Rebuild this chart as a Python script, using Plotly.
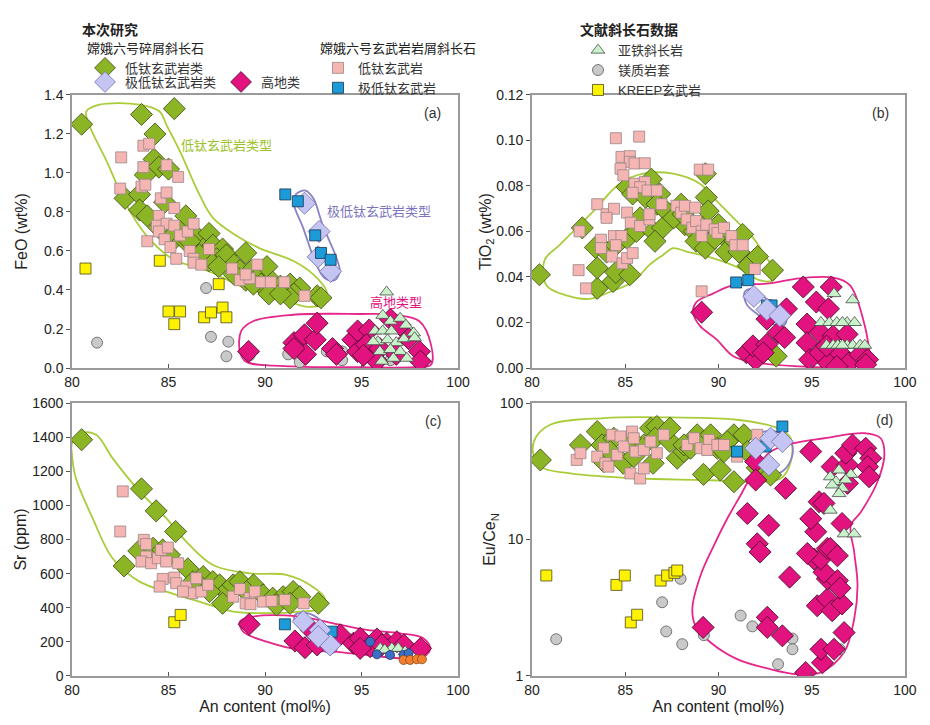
import plotly.graph_objects as go

# ---------------- panel (a): FeO (wt%) vs An (mol%) ----------------
FEO_LOWTI_DIA = [
    (80.5, 1.25), (83.6, 1.30), (85.3, 1.33), (84.3, 1.20), (84.25, 1.07), (84.5, 1.03),
    (85.0, 1.02), (83.8, 0.99), (82.75, 0.87), (83.5, 0.89), (83.5, 0.81), (83.9, 0.78),
    (84.8, 0.85), (85.9, 0.78), (85.6, 0.70), (85.3, 0.66), (85.9, 0.65), (86.5, 0.67),
    (87.1, 0.69), (86.8, 0.61), (87.3, 0.63), (87.8, 0.61), (87.5, 0.56), (88.0, 0.58),
    (88.4, 0.53), (89.0, 0.59), (88.7, 0.50), (89.3, 0.50), (89.7, 0.47), (90.1, 0.52),
    (89.8, 0.43), (90.4, 0.44), (90.8, 0.42), (91.3, 0.43), (91.8, 0.41), (91.5, 0.38),
    (91.3, 0.36), (92.7, 0.37), (92.9, 0.36), (87.1, 0.55), (86.6, 0.58), (86.1, 0.65),
    (85.1, 0.70), (84.5, 0.72), (87.6, 0.52), (88.4, 0.48), (89.0, 0.45), (89.4, 0.43),
    (90.2, 0.38), (90.8, 0.38),
]
FEO_LOWTI_SQ = [
    (83.7, 1.14), (84.0, 1.15), (82.55, 1.08), (83.7, 1.03), (84.9, 1.04), (85.5, 0.98),
    (82.5, 0.92), (83.6, 0.93), (83.8, 0.94), (84.6, 0.87), (84.9, 0.90), (85.3, 0.82),
    (84.5, 0.78), (84.4, 0.73), (84.9, 0.74), (85.3, 0.73), (83.9, 0.65), (84.5, 0.70),
    (84.8, 0.66), (85.1, 0.62), (85.4, 0.56), (85.6, 0.68), (86.0, 0.70), (86.3, 0.74),
    (86.1, 0.60), (86.3, 0.56), (86.3, 0.54), (86.7, 0.53), (87.1, 0.61), (88.3, 0.51),
    (88.7, 0.45), (89.2, 0.46), (89.6, 0.53), (89.8, 0.44), (90.3, 0.44), (91.0, 0.44),
    (92.05, 0.37), (89.0, 0.48),
]
FEO_VLT_DIA = [(92.05, 0.845), (92.8, 0.70), (92.75, 0.57), (93.4, 0.495)]
FEO_VLT_SQ = [(91.05, 0.89), (91.7, 0.855), (92.6, 0.68), (92.9, 0.59), (93.4, 0.555)]
FEO_KREEP = [
    (80.7, 0.51), (84.55, 0.55), (87.6, 0.43), (85.0, 0.29), (85.6, 0.29), (85.3, 0.225),
    (86.85, 0.26), (87.2, 0.285), (87.8, 0.31), (88.0, 0.26),
]
FEO_MGS = [
    (81.3, 0.13), (86.95, 0.41), (87.2, 0.16), (88.1, 0.135), (88.0, 0.06), (89.2, 0.065),
    (91.2, 0.07), (91.8, 0.03), (93.2, 0.085), (94.0, 0.085), (94.0, 0.04), (96.5, 0.04),
]
FEO_HL_DIA = [
    (89.15, 0.085), (91.5, 0.13), (92.05, 0.17), (92.6, 0.145), (92.7, 0.23), (92.1, 0.07),
    (91.5, 0.10), (93.5, 0.10), (93.7, 0.07), (94.55, 0.145), (94.8, 0.19), (95.4, 0.195),
    (94.8, 0.085), (95.25, 0.12), (95.6, 0.06), (95.95, 0.10), (96.5, 0.25), (97.0, 0.22),
    (97.45, 0.15), (98.0, 0.085), (98.05, 0.035), (96.8, 0.07), (95.8, 0.035), (95.1, 0.065),
]
FEO_FAN = [
    (96.3, 0.39), (96.1, 0.27), (96.5, 0.24), (97.0, 0.255), (95.7, 0.19), (96.1, 0.19),
    (96.55, 0.19), (97.3, 0.22), (97.7, 0.18), (95.85, 0.135), (96.35, 0.145), (96.8, 0.13),
    (97.2, 0.15), (97.75, 0.155), (95.95, 0.085), (96.5, 0.095), (97.0, 0.085), (97.35, 0.05),
    (96.05, 0.035), (95.6, 0.135), (96.65, 0.05),
]
FEO_ENV_LOWTI = [
    (80.74, 1.315), (81.43, 1.35), (83.5, 1.35), (84.54, 1.315), (84.9, 1.245), (85.6, 1.11),
    (86.6, 0.89), (87.3, 0.77), (88.5, 0.68), (89.7, 0.615), (91.45, 0.55), (92.5, 0.48),
    (93.2, 0.39), (93.0, 0.33), (92.1, 0.315), (90.8, 0.36), (89.0, 0.41), (87.1, 0.495),
    (85.2, 0.56), (83.85, 0.68), (82.8, 0.84), (81.8, 1.06), (80.9, 1.245),
]
FEO_ENV_VLT = [
    (91.6, 0.89), (92.1, 0.91), (92.5, 0.87), (93.0, 0.73), (93.7, 0.565), (93.87, 0.495),
    (93.6, 0.45), (93.1, 0.46), (92.66, 0.53), (91.97, 0.72), (91.5, 0.84),
]
FEO_ENV_HL = [
    (88.77, 0.19), (89.38, 0.24), (91.45, 0.273), (94.9, 0.277), (96.6, 0.273), (98.0, 0.24),
    (98.6, 0.12), (98.6, 0.017), (97.7, 0.004), (94.9, 0.004), (91.45, 0.008), (89.0, 0.034),
    (88.7, 0.085),
]

# ---------------- panel (b): TiO2 (wt%) vs An ----------------
TIO2_LOWTI_DIA = [
    (80.4, 0.041), (82.7, 0.0616), (83.5, 0.035), (83.5, 0.044), (83.4, 0.053), (84.35, 0.038),
    (84.5, 0.042), (85.25, 0.041), (84.0, 0.051), (84.5, 0.054), (85.1, 0.057), (85.6, 0.060),
    (85.8, 0.066), (85.1, 0.0795), (85.4, 0.0765), (86.0, 0.078), (86.4, 0.083), (86.1, 0.075),
    (86.85, 0.0765), (86.7, 0.072), (87.2, 0.069), (86.5, 0.060), (87.0, 0.0616), (86.6, 0.0557),
    (88.0, 0.072), (88.2, 0.063), (88.7, 0.060), (89.3, 0.063), (88.8, 0.0557), (89.3, 0.0527),
    (89.35, 0.075), (89.45, 0.069), (89.3, 0.0854), (90.0, 0.063), (90.4, 0.057), (90.4, 0.051),
    (90.9, 0.0557), (91.1, 0.051), (91.3, 0.0587), (91.6, 0.045), (92.1, 0.049), (92.9, 0.043),
    (93.1, 0.0052), (89.8, 0.057), (87.6, 0.066), (88.1, 0.0676),
]
TIO2_LOWTI_SQ = [
    (84.5, 0.101), (85.75, 0.1017), (84.8, 0.0928), (85.25, 0.0931), (85.25, 0.0906), (85.5, 0.0899),
    (86.05, 0.090), (84.75, 0.0876), (84.9, 0.0847), (85.5, 0.081), (86.05, 0.0817), (85.8, 0.0795),
    (86.2, 0.078), (85.4, 0.077), (86.7, 0.078), (83.5, 0.072), (84.0, 0.0676), (84.4, 0.070),
    (85.1, 0.0683), (84.0, 0.066), (85.3, 0.0639), (85.8, 0.0624), (86.3, 0.0653), (86.3, 0.0676),
    (86.95, 0.072), (82.55, 0.0601), (83.7, 0.0564), (83.7, 0.0527), (84.4, 0.058), (84.8, 0.058),
    (84.5, 0.054), (84.3, 0.049), (84.85, 0.046), (85.1, 0.0483), (85.4, 0.0505), (82.5, 0.043),
    (82.9, 0.035), (87.75, 0.0713), (88.0, 0.0683), (88.2, 0.0713), (88.75, 0.0705), (88.3, 0.0653),
    (88.6, 0.0616), (88.8, 0.0646), (89.1, 0.0601), (89.1, 0.058), (89.35, 0.063), (89.8, 0.0609),
    (89.95, 0.0594), (90.3, 0.0616), (90.7, 0.058), (90.9, 0.054), (91.3, 0.054), (91.95, 0.0435),
    (89.0, 0.0872), (89.45, 0.0872), (89.1, 0.0337),
]
TIO2_VLT_DIA = [(91.9, 0.0315), (92.6, 0.0257), (93.3, 0.023)]
TIO2_VLT_SQ = [(90.95, 0.0376), (91.6, 0.0386), (92.6, 0.0275), (92.85, 0.0275)]
TIO2_HL_DIA = [
    (89.1, 0.0245), (91.5, 0.0067), (92.0, 0.0037), (91.85, 0.0097), (92.6, 0.0104), (92.4, 0.0067),
    (92.6, 0.0215), (93.2, 0.0156), (93.65, 0.026), (93.55, 0.0134), (94.55, 0.0356), (94.75, 0.0193),
    (95.25, 0.029), (95.9, 0.026), (96.05, 0.0356), (95.45, 0.0156), (94.75, 0.0111), (94.9, 0.0037),
    (95.45, 0.0067), (95.9, 0.0022), (96.15, 0.0141), (96.9, 0.0148), (96.5, 0.0067), (97.0, 0.0022),
    (97.6, 0.0059), (98.0, 0.0037), (97.9, 0.0015), (95.8, 0.0097), (96.35, 0.0007),
]
TIO2_FAN = [
    (96.2, 0.0327), (97.2, 0.030), (95.5, 0.020), (95.95, 0.020), (96.35, 0.020), (96.9, 0.020),
    (97.3, 0.020), (95.8, 0.010), (96.15, 0.010), (96.4, 0.010), (96.9, 0.010), (97.2, 0.010),
    (97.6, 0.010), (97.85, 0.010), (96.65, 0.020), (96.65, 0.010),
]
TIO2_ENV_LOWTI = [
    (80.68, 0.0475), (81.5, 0.0542), (83.3, 0.069), (84.7, 0.081), (85.96, 0.0854), (87.57, 0.0854),
    (89.0, 0.081), (89.9, 0.0735), (90.8, 0.066), (91.86, 0.0572), (92.58, 0.0483), (93.1, 0.0423),
    (92.93, 0.0386), (92.2, 0.0386), (91.15, 0.0438), (89.7, 0.0483), (88.28, 0.0512), (87.57, 0.0527),
    (87.03, 0.0497), (86.3, 0.0453), (85.42, 0.0379), (84.17, 0.0334), (83.1, 0.0304), (81.84, 0.0319),
    (80.77, 0.0364),
]
TIO2_ENV_VLT = [
    (91.41, 0.0334), (91.86, 0.0349), (92.58, 0.0304), (93.47, 0.0245), (93.65, 0.0208),
    (93.47, 0.0186), (92.93, 0.0193), (92.2, 0.023), (91.5, 0.0282),
]
TIO2_ENV_HL = [
    (88.82, 0.029), (89.7, 0.0327), (90.8, 0.0364), (92.58, 0.0371), (94.36, 0.0394), (96.15, 0.0397),
    (97.05, 0.0364), (97.85, 0.0186), (98.12, 0.0067), (98.3, 0.0007), (96.15, 0.0003), (94.36, 0.0007),
    (92.2, 0.0022), (90.8, 0.0052), (89.9, 0.0126), (89.0, 0.0186), (88.64, 0.0245),
]

# ---------------- panel (c): Sr (ppm) vs An ----------------
SR_LOWTI_DIA = [
    (80.5, 1385), (83.6, 1097), (84.36, 968), (85.37, 847), (82.7, 645), (83.46, 733), (84.2, 749),
    (84.7, 739), (85.05, 710), (86.0, 628), (86.8, 583), (87.3, 553), (87.65, 534), (88.0, 495),
    (87.8, 426), (88.35, 534), (88.7, 553), (89.4, 534), (89.04, 495), (89.9, 475), (90.4, 456),
    (90.94, 465), (91.46, 495), (91.8, 465), (92.76, 426), (90.6, 417), (91.3, 426), (87.13, 495),
    (86.6, 534), (86.27, 553),
]
SR_LOWTI_SQ = [
    (82.63, 1082), (82.5, 847), (83.72, 798), (83.84, 773), (83.84, 700), (83.6, 671), (84.1, 661),
    (84.45, 690), (84.62, 739), (84.97, 753), (84.88, 671), (85.5, 661), (84.7, 569), (84.54, 524),
    (85.3, 577), (85.4, 544), (85.92, 524), (86.44, 573), (86.23, 485), (85.75, 495), (86.7, 495),
    (87.05, 534), (88.35, 465), (88.7, 510), (89.2, 456), (89.0, 426), (89.47, 495), (89.9, 436),
    (90.34, 440), (91.03, 446), (92.0, 426), (89.25, 421),
]
SR_KREEP = [(85.3, 315), (85.63, 358)]
SR_VLT_SQ = [(91.03, 303), (93.45, 260)]
SR_VLT_DIA = [(92.85, 270), (93.37, 182), (92.76, 231), (91.98, 319)]
SR_HL_DIA = [
    (89.18, 303), (91.55, 205), (92.07, 166), (92.4, 270), (92.7, 182), (93.9, 241), (94.58, 192),
    (94.93, 221), (95.45, 172), (95.8, 217), (96.3, 192), (96.83, 201), (97.2, 182), (98.06, 162),
    (94.93, 162), (96.05, 182),
]
SR_FAN = [(95.97, 162), (96.57, 162), (96.9, 162), (97.26, 143), (96.2, 153)]
SR_BLUE_CIRC = [(95.45, 201), (95.8, 127), (96.48, 123), (97.18, 123), (97.44, 133)]
SR_ORANGE_CIRC = [(97.18, 94), (97.52, 94), (97.87, 98), (98.13, 98)]
SR_ENV_LOWTI = [
    (80.0, 1365), (80.55, 1424), (81.25, 1414), (82.1, 1277), (83.5, 1082), (84.88, 925), (85.92, 788),
    (87.3, 651), (89.2, 602), (91.1, 593), (92.33, 534), (93.1, 456), (92.93, 397), (91.8, 377),
    (90.08, 368), (88.35, 377), (86.6, 436), (84.88, 495), (83.5, 553), (82.1, 690), (81.07, 925),
    (80.2, 1160), (80.0, 1297),
]
SR_ENV_VLT = [
    (91.55, 358), (92.16, 368), (92.85, 329), (93.54, 221), (93.71, 153), (93.37, 133), (92.85, 162),
    (92.16, 241), (91.55, 319),
]
SR_ENV_HL = [
    (88.7, 319), (89.38, 348), (91.8, 348), (93.54, 309), (95.27, 270), (97.0, 250), (98.2, 221),
    (98.56, 162), (98.2, 113), (97.0, 104), (95.27, 123), (93.54, 143), (91.8, 153), (90.08, 201),
    (88.87, 260),
]

# ---------------- panel (d): Eu/Ce_N vs An (log) ----------------
EUCE_LOWTI_DIA = [
    (80.45, 38.3), (82.6, 49.3), (83.5, 61.8), (83.76, 49.3), (84.39, 55.2), (83.85, 37.2), (84.9, 36.2),
    (85.46, 40.5), (86.0, 49.3), (86.36, 65.5), (86.7, 67.3), (86.6, 55.2), (86.5, 36.2), (87.4, 52.2),
    (87.79, 39.4), (88.15, 44.1), (88.86, 58.5), (89.2, 52.2), (89.2, 30.0), (89.58, 58.5), (89.94, 46.6),
    (90.1, 32.3), (90.83, 58.5), (90.83, 26.5), (90.47, 52.2), (91.37, 58.5), (91.55, 44.1), (92.08, 33.5),
    (92.8, 29.7), (88.15, 49.3), (85.28, 55.2), (87.4, 65.5), (88.5, 46.6), (90.3, 44.1), (84.2, 44.1),
]
EUCE_LOWTI_SQ = [
    (82.4, 38.3), (82.6, 42.9), (83.85, 46.6), (83.5, 40.5), (83.94, 36.2), (84.1, 34.2), (84.3, 58.5),
    (84.75, 56.9), (84.57, 41.7), (84.92, 48.0), (85.37, 61.8), (85.46, 55.2), (85.55, 44.1), (86.0, 45.3),
    (85.28, 30.5), (85.8, 28.0), (86.0, 33.2), (86.36, 52.2), (86.7, 42.9), (87.07, 58.5), (88.33, 49.3),
    (88.7, 55.2), (89.04, 46.6), (89.5, 53.7), (89.4, 45.3), (89.94, 49.3), (90.3, 49.3), (91.0, 40.5),
    (92.08, 58.5),
]
EUCE_VLT_SQ = [(93.43, 67.3), (91.0, 44.1), (92.53, 48.0)]
EUCE_VLT_DIA = [(92.0, 46.6), (92.8, 55.2), (93.43, 52.2), (92.7, 35.2)]
EUCE_HL_DIA = [
    (94.95, 44.1), (92.0, 37.2), (92.0, 27.3), (93.6, 23.7), (91.55, 15.5), (92.7, 12.7), (92.08, 9.3),
    (92.23, 8.1), (93.82, 5.3), (89.18, 2.27), (92.62, 2.69), (92.62, 2.27), (93.43, 1.97), (94.68, 1.06),
    (95.58, 1.25), (95.5, 1.57), (96.2, 1.57), (96.74, 2.08), (95.3, 3.27), (95.84, 3.67), (96.1, 3.01),
    (96.63, 3.37), (95.84, 5.15), (96.38, 5.0), (96.52, 4.4), (95.66, 5.76), (95.13, 7.2), (95.48, 7.2),
    (95.84, 8.6), (96.0, 8.6), (96.38, 7.6), (94.77, 7.9), (95.22, 11.4), (94.95, 14.2), (95.4, 18.9),
    (95.66, 18.4), (96.63, 13.1), (96.1, 34.2), (96.92, 35.2), (96.83, 42.9), (97.19, 49.3), (97.9, 46.6),
    (98.17, 39.4), (98.0, 34.2), (98.08, 28.8), (96.92, 25.8),
]
EUCE_FAN = [
    (96.47, 32.3), (97.1, 30.0), (96.0, 28.8), (96.3, 26.5), (96.83, 27.3), (96.1, 25.1), (96.65, 23.7),
    (96.47, 21.7), (96.0, 16.4), (96.74, 11.0), (97.28, 11.0),
]
EUCE_KREEP = [
    (80.77, 5.45), (84.53, 4.65), (84.98, 5.45), (86.9, 5.0), (87.25, 5.45), (87.64, 5.7), (87.79, 5.93),
    (85.3, 2.47), (85.64, 2.81),
]
EUCE_MGS = [
    (81.3, 1.86), (86.98, 3.47), (87.97, 5.15), (87.2, 2.12), (88.06, 1.71), (89.22, 1.99), (91.19, 2.77),
    (91.82, 2.31), (93.2, 1.22), (93.97, 1.88), (93.97, 1.57), (96.5, 1.57),
]
EUCE_ENV_LOWTI = [
    (80.18, 55.2), (80.98, 69.3), (83.85, 77.6), (87.43, 78.4), (91.0, 75.4), (93.16, 65.5), (93.88, 55.2),
    (93.88, 37.2), (93.34, 28.0), (92.09, 26.5), (89.22, 27.3), (85.64, 28.0), (82.06, 30.5), (80.45, 34.2),
    (80.05, 44.1),
]
EUCE_ENV_VLT = [
    (91.73, 55.2), (92.44, 61.8), (93.34, 60.1), (93.88, 52.2), (93.97, 41.7), (93.52, 32.3), (92.8, 30.0),
    (92.09, 35.2), (91.55, 44.1),
]
EUCE_ENV_HL = [
    (88.6, 3.1), (89.04, 5.45), (89.76, 9.06), (90.47, 14.2), (91.19, 21.1), (91.9, 31.4), (92.8, 44.1),
    (94.05, 50.8), (95.67, 55.2), (97.82, 60.1), (98.7, 55.2), (98.9, 41.7), (98.53, 26.5), (97.64, 15.9),
    (97.1, 12.7), (97.28, 8.1), (97.46, 4.6), (97.28, 2.61), (96.74, 1.49), (95.49, 1.06), (94.23, 1.03),
    (92.8, 1.12), (91.0, 1.33), (89.58, 1.76), (88.77, 2.33),
]

FONT = "Arial, Liberation Sans, Noto Sans CJK SC, sans-serif"

# marker styles: name, symbol, size, fill, outline, legend group, rank
STYLES = {
    "mgs": ("镁质岩套", "circle", 11, "#c9c9c9", "#5a5a5a", "legend4", 2),
    "kreep": ("KREEP玄武岩", "square", 11, "#fff200", "#4a4a20", "legend4", 3),
    "lowti_dia": ("低钛玄武岩类", "diamond", 17, "#8cb526", "#3c4616", "legend", 1),
    "lowti_sq": ("低钛玄武岩", "square", 11, "#f4b5b3", "#9b8585", "legend3", 1),
    "hl_dia": ("高地类", "diamond", 17, "#e2127f", "#3e0a24", "legend2", 2),
    "fan": ("亚铁斜长岩", "triangle-up", 12, "#c8f2c9", "#4a4a4a", "legend4", 1),
    "vlt_dia": ("极低钛玄武岩类", "diamond", 17, "#c5c5f3", "#6f6fa8", "legend2", 1),
    "vlt_sq": ("极低钛玄武岩", "square", 11, "#1d9bd8", "#163650", "legend3", 2),
    "blue_circ": (None, "circle", 9, "#3b6fc4", "#203a70", None, 0),
    "orange_circ": (None, "circle", 9, "#f08030", "#8a4a18", None, 0),
}
ENV_COLORS = {"lowti": "#a9cd3a", "vlt": "#8a82c6", "hl": "#e5268a"}

panels = [
    ("x", "y", {"lowti": FEO_ENV_LOWTI, "vlt": FEO_ENV_VLT, "hl": FEO_ENV_HL},
     {"mgs": FEO_MGS, "kreep": FEO_KREEP, "lowti_dia": FEO_LOWTI_DIA, "lowti_sq": FEO_LOWTI_SQ,
      "hl_dia": FEO_HL_DIA, "fan": FEO_FAN, "vlt_dia": FEO_VLT_DIA, "vlt_sq": FEO_VLT_SQ}),
    ("x2", "y2", {"lowti": TIO2_ENV_LOWTI, "vlt": TIO2_ENV_VLT, "hl": TIO2_ENV_HL},
     {"lowti_dia": TIO2_LOWTI_DIA, "lowti_sq": TIO2_LOWTI_SQ, "hl_dia": TIO2_HL_DIA, "fan": TIO2_FAN,
      "vlt_sq": TIO2_VLT_SQ, "vlt_dia": TIO2_VLT_DIA}),
    ("x3", "y3", {"lowti": SR_ENV_LOWTI, "vlt": SR_ENV_VLT, "hl": SR_ENV_HL},
     {"kreep": SR_KREEP, "lowti_dia": SR_LOWTI_DIA, "lowti_sq": SR_LOWTI_SQ, "hl_dia": SR_HL_DIA,
      "fan": SR_FAN, "blue_circ": SR_BLUE_CIRC, "orange_circ": SR_ORANGE_CIRC, "vlt_sq": SR_VLT_SQ,
      "vlt_dia": SR_VLT_DIA}),
    ("x4", "y4", {"lowti": EUCE_ENV_LOWTI, "vlt": EUCE_ENV_VLT, "hl": EUCE_ENV_HL},
     {"mgs": EUCE_MGS, "kreep": EUCE_KREEP, "lowti_dia": EUCE_LOWTI_DIA, "lowti_sq": EUCE_LOWTI_SQ,
      "hl_dia": EUCE_HL_DIA, "fan": EUCE_FAN, "vlt_sq": EUCE_VLT_SQ, "vlt_dia": EUCE_VLT_DIA}),
]

fig = go.Figure()
shown = set()
for xa, ya, envs, groups in panels:
    for key, pts in envs.items():
        pts = pts + pts[:1]
        fig.add_trace(go.Scatter(
            x=[p[0] for p in pts], y=[p[1] for p in pts], xaxis=xa, yaxis=ya,
            mode="lines", line=dict(color=ENV_COLORS[key], width=1.8, shape="spline", smoothing=1.0),
            showlegend=False, hoverinfo="skip",
        ))
    for key, pts in groups.items():
        name, sym, size, fill, edge, leg, rank = STYLES[key]
        show = name is not None and key not in shown
        if show:
            shown.add(key)
        fig.add_trace(go.Scatter(
            x=[p[0] for p in pts], y=[p[1] for p in pts], xaxis=xa, yaxis=ya,
            mode="markers", name=name or key,
            marker=dict(symbol=sym, size=size, color=fill, line=dict(color=edge, width=0.8)),
            showlegend=show, legend=leg or "legend", legendrank=rank,
        ))

axis_common = dict(
    showline=True, mirror=True, linecolor="#9a9a9a", linewidth=1.5, showgrid=False, zeroline=False,
    automargin=False, ticklen=4, tickcolor="#555",
    tickfont=dict(size=14, color="#222", family=FONT),
)
xcols = [[0.0774, 0.4925], [0.572, 0.973]]
yrows = [[0.4924, 0.869], [0.0676, 0.4441]]
TITLE_FONT = dict(size=16, color="#222", family=FONT)
xtitle = dict(text="An content (mol%)", font=TITLE_FONT, standoff=2)

layout_axes = {}
for i, (col, row) in enumerate([(0, 0), (1, 0), (0, 1), (1, 1)]):
    sfx = "" if i == 0 else str(i + 1)
    layout_axes["xaxis" + sfx] = dict(
        axis_common, domain=xcols[col], range=[80, 100], dtick=5, ticks="inside",
        anchor="y" + sfx, title=xtitle if row == 1 else None,
    )
layout_axes["yaxis"] = dict(axis_common, domain=yrows[0], range=[0, 1.4], dtick=0.2, tickformat=".1f",
                            ticks="outside", anchor="x",
                            title=dict(text="FeO (wt%)", font=TITLE_FONT, standoff=12))
layout_axes["yaxis2"] = dict(axis_common, domain=yrows[0], range=[0, 0.12], dtick=0.02, tickformat=".2f",
                             ticks="outside", anchor="x2",
                             title=dict(text="TiO<sub>2</sub> (wt%)", font=TITLE_FONT, standoff=1))
layout_axes["yaxis3"] = dict(axis_common, domain=yrows[1], range=[0, 1600], dtick=200,
                             ticks="outside", anchor="x3",
                             title=dict(text="Sr (ppm)", font=TITLE_FONT, standoff=2))
layout_axes["yaxis4"] = dict(axis_common, domain=yrows[1], type="log", range=[0, 2], tickvals=[1, 10, 100],
                             ticks="outside", anchor="x4",
                             title=dict(text="Eu/Ce<sub>N</sub>", font=TITLE_FONT, standoff=0))

annotations = []
for sfx, lab, lx, ly in [("", "(a)", 0.935, 0.935), ("2", "(b)", 0.935, 0.935),
                         ("3", "(c)", 0.935, 0.935), ("4", "(d)", 0.944, 0.937)]:
    annotations.append(dict(xref=f"x{sfx} domain", yref=f"y{sfx} domain", x=lx, y=ly, text=lab,
                            xanchor="center", yanchor="middle",
                            showarrow=False, font=dict(size=14, color="#333")))
annotations += [
    dict(xref="x", yref="y", x=88.0, y=1.14, text="低钛玄武岩类型", showarrow=False,
         font=dict(size=13, color="#9cc32a")),
    dict(xref="x", yref="y", x=95.9, y=0.80, text="极低钛玄武岩类型", showarrow=False,
         font=dict(size=13, color="#7d74c0")),
    dict(xref="x", yref="y", x=96.8, y=0.335, text="高地类型", showarrow=False,
         font=dict(size=13, color="#e2127f")),
    dict(xref="paper", yref="paper", x=80 / 930, y=1 - 30 / 725, xanchor="left", yanchor="middle",
         text="<b>本次研究</b>", showarrow=False, font=dict(size=14, color="#222")),
]

leg_common = dict(bgcolor="rgba(0,0,0,0)", borderwidth=0, font=dict(size=13, color="#333", family=FONT),
                  xanchor="left", yanchor="top", tracegroupgap=0, itemclick=False, itemdoubleclick=False)

fig.update_layout(
    width=930, height=725, margin=dict(l=0, r=0, t=0, b=0),
    paper_bgcolor="white", plot_bgcolor="white",
    font=dict(family=FONT, size=13, color="#222"),
    annotations=annotations,
    legend=dict(leg_common, x=85 / 930, y=1 - 36 / 725,
                title=dict(text="嫦娥六号碎屑斜长石", font=dict(size=13, color="#222"))),
    legend2=dict(leg_common, x=85 / 930, y=1 - 67 / 725, orientation="h"),
    legend3=dict(leg_common, x=318 / 930, y=1 - 36 / 725,
                 title=dict(text="嫦娥六号玄武岩岩屑斜长石", font=dict(size=13, color="#222"))),
    legend4=dict(leg_common, x=578 / 930, y=1 - 17 / 725,
                 title=dict(text="<b>文献斜长石数据</b>", font=dict(size=14, color="#222"))),
    **layout_axes,
)

# page body margin would push the 930x725 figure off its window
fig.write_html("out.html", config={"displayModeBar": False},
               post_script="document.body.style.margin='0';")
